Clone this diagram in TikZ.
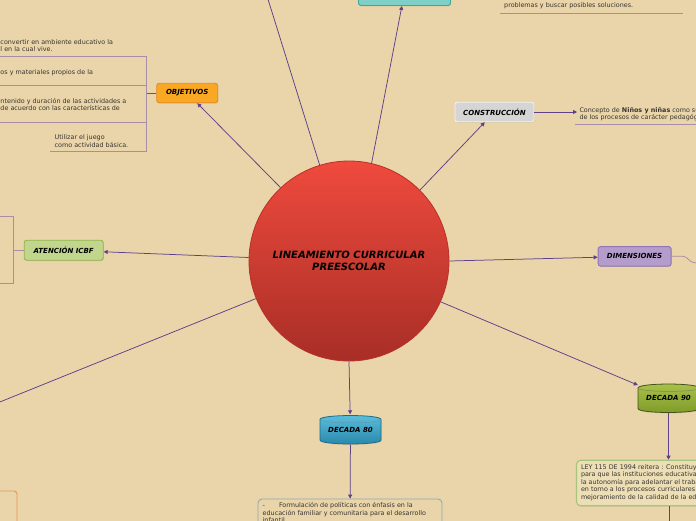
\documentclass[tikz,border=0pt]{standalone}
\usepackage{fontspec}
\setmainfont{DejaVu Sans}
\usetikzlibrary{arrows.meta,shadows}
\definecolor{bgc}{HTML}{E9D5A9}
\definecolor{connc}{HTML}{5D3F8A}
\definecolor{subc}{HTML}{A88DA8}
\definecolor{txtc}{HTML}{3A3430}
\definecolor{objf}{HTML}{F8A823}
\definecolor{objd}{HTML}{E3892C}
\definecolor{consf}{HTML}{D5D5D5}
\definecolor{consd}{HTML}{F2F2F2}
\definecolor{icbff}{HTML}{C2D58C}
\definecolor{icbfd}{HTML}{93B650}
\definecolor{dimf}{HTML}{B49DCB}
\definecolor{dimd}{HTML}{8F74B6}
\definecolor{tealf}{HTML}{7ECFC5}
\definecolor{teald}{HTML}{3DA99B}
\definecolor{redtop}{HTML}{EF4A3D}
\definecolor{redbot}{HTML}{A82E26}
\definecolor{redd}{HTML}{B93129}
\definecolor{bluetop}{HTML}{5CC0DD}
\definecolor{bluebot}{HTML}{2786AA}
\definecolor{blued}{HTML}{1F6C88}
\definecolor{olvtop}{HTML}{A9C24A}
\definecolor{olvbot}{HTML}{7E9A28}
\definecolor{olvd}{HTML}{44531A}
\definecolor{leyf}{HTML}{ECDFB6}
\definecolor{leyd}{HTML}{A8C47E}
\definecolor{t80d}{HTML}{8FA8B6}
\definecolor{orgd}{HTML}{E8955C}
\begin{document}
\begin{tikzpicture}[x=1pt,y=-1pt,
  lbl/.style={font=\fontsize{7}{8}\selectfont\bfseries\itshape, text=black},
  box/.style={rounded corners=2.5pt, line width=0.9pt, lbl, inner sep=0pt,
     drop shadow={opacity=0.22, shadow xshift=0.6pt, shadow yshift=-0.9pt}},
  conn/.style={draw=connc, line width=0.75pt, -{Triangle[length=4pt,width=4pt]}},
  connline/.style={draw=connc, line width=0.75pt},
  subline/.style={draw=subc, line width=0.8pt},
  small/.style={font=\fontsize{6.4}{7.5}\selectfont, text=txtc, inner sep=0pt, align=left}
]
\useasboundingbox (0,0) rectangle (696,520);
\clip (0,0) rectangle (696,520);
\fill[bgc] (-5,-5) rectangle (701,525);

% central node
\node[circle, minimum size=200pt, inner sep=0pt, top color=redtop, bottom color=redbot,
      draw=redd, line width=0.8pt, font=\fontsize{10}{11.6}\selectfont\bfseries\itshape,
      align=center, text=black] (c) at (349,261) {LINEAMIENTO CURRICULAR\\PREESCOLAR};

% main topic nodes
\node[box, fill=objf, draw=objd, minimum width=61pt, minimum height=19.5pt] (obj) at (187.2,93) {OBJETIVOS};
\node[box, fill=tealf, draw=teald, minimum width=92pt, minimum height=26pt] (met) at (404.5,-7.5) {};
\node[box, fill=consf, draw=consd, minimum width=79pt, minimum height=19.5pt] (cons) at (494.5,112) {CONSTRUCCIÓN};
\node[box, fill=icbff, draw=icbfd, minimum width=79pt, minimum height=20pt] (icbf) at (63.7,250.2) {ATENCIÓN ICBF};
\node[box, fill=dimf, draw=dimd, minimum width=73pt, minimum height=19.5pt] (dim) at (634.6,256.3) {DIMENSIONES};

% drums
\shade[top color=bluetop, bottom color=bluebot, draw=blued, line width=0.8pt,
  drop shadow={opacity=0.22, shadow xshift=0.6pt, shadow yshift=-0.9pt}]
  (320,419.5) .. controls (320,414.2) and (381,414.2) .. (381,419.5)
  -- (381,440) .. controls (381,445.3) and (320,445.3) .. (320,440) -- cycle;
\draw[blued!70, line width=0.5pt] (320,419.5) .. controls (320,424) and (381,424) .. (381,419.5);
\node[lbl, minimum width=61pt, minimum height=30pt, inner sep=0pt] (d80) at (350.5,429.5) {DECADA 80};

\shade[top color=olvtop, bottom color=olvbot, draw=olvd, line width=0.8pt,
  drop shadow={opacity=0.22, shadow xshift=0.6pt, shadow yshift=-0.9pt}]
  (638,388) .. controls (638,382.7) and (699,382.7) .. (699,388)
  -- (699,408.5) .. controls (699,413.8) and (638,413.8) .. (638,408.5) -- cycle;
\draw[olvd!70, line width=0.5pt] (638,388) .. controls (638,392.5) and (699,392.5) .. (699,388);
\node[lbl, minimum width=61pt, minimum height=30pt, inner sep=0pt] (d90) at (668.5,398) {DECADA 90};

% detail boxes
\node[rounded corners=4pt, fill=leyf, draw=leyd, line width=1.1pt, minimum width=184pt, minimum height=45.5pt,
      inner sep=0pt, drop shadow={opacity=0.18, shadow xshift=0.6pt, shadow yshift=-0.9pt}] (ley) at (668.5,483) {};
\node[small, anchor=north west] (leytxt) at (580.8,464.2)
 {LEY 115 DE 1994 reitera : Constituye\\para que las instituciones educativas\\la autonomía para adelantar el trabajo\\en torno a los procesos curriculares\\mejoramiento de la calidad de la educación};

\node[rounded corners=4pt, draw=t80d, line width=0.9pt, minimum width=184pt, minimum height=50pt, inner sep=0pt] (t80) at (350,524) {};
\node[small, anchor=north west] (t80txt) at (262.5,502.3)
 {-\hspace{14pt}Formulación de políticas con énfasis en la\\educación familiar y comunitaria para el desarrollo\\infantil};

\node[rounded corners=3pt, draw=orgd, line width=0.9pt, minimum width=40pt, minimum height=50pt, inner sep=0pt] (orgbox) at (-3,516) {};

% texts near OBJETIVOS
\node[small, anchor=north west] (o1) at (0.3,39.3) {convertir en ambiente educativo la\\l en la cual vive.};
\node[small, anchor=north west] (o2) at (0.3,69.4) {os y materiales propios de la};
\node[small, anchor=north west] (o3) at (0.3,97.8) {ntenido y duración de las actividades a\\de acuerdo con las características de};
\node[small, anchor=north west] (o4) at (54.5,134.8) {Utilizar el juego\\como actividad básica.};

% top right text
\node[small, anchor=north west] (tr) at (504,2.8) {problemas y buscar posibles soluciones.};
\coordinate (trl) at (500,13);
\coordinate (trr) at (683,13);
\draw[subline] (trl) -- (trr);

% construction text
\coordinate (conspt) at (577,112);
\node[small, anchor=north west] (constxt) at (579.3,107.3) {Concepto de \textbf{Niños y niñas} como sujetos\\de los procesos de carácter pedagógico};
\coordinate (cul) at (575,124.5);
\coordinate (cur) at (705,124.5);
\draw[subline] (cul) -- (cur);

% off-frame end points
\coordinate (topoff) at (262,-20);
\coordinate (bloff) at (-20,410);
\coordinate (leyoff) at (669,530);

% main connectors
\draw[conn] (c.133.4) -- (obj);
\draw[connline] (c.107.6) -- (topoff);
\draw[conn] (c.77.7) -- (met);
\draw[conn] (c.45.8) -- (cons);
\draw[conn] (c.178.3) -- (icbf);
\draw[conn] (c.0.5) -- (dim);
\draw[connline] (c.202.3) -- (bloff);
\draw[conn] (c.336.7) -- (d90);
\draw[conn] (c.south) -- (d80);
\draw[conn] (d80) -- (t80);
\draw[conn] (d90) -- (ley);
\draw[connline] (ley.south -| leyoff) -- (leyoff);
\draw[conn] (cons) -- (conspt);

% OBJETIVOS bracket
\coordinate (objbr) at (146,93);
\draw[draw=connc!80!subc, line width=0.8pt] (obj.west) -- (objbr);
\draw[subline] (-5,56) -- (146,56) -- (146,151) -- (50,151);
\draw[subline] (-5,85) -- (146,85);
\draw[subline] (-5,122) -- (146,122);

% ICBF bracket
\coordinate (icbr) at (13.3,250.2);
\draw[subline] (icbf.west) -- (icbr);
\draw[subline] (-5,216) -- (13.3,216) -- (13.3,283) -- (-5,283);

% DIMENSIONES curve
\coordinate (dimoff) at (710,263);
\draw[subline] (dim.east) -- (683,256.3) .. controls (688,256.3) and (689,263) .. (696,263) -- (dimoff);
\end{tikzpicture}
\end{document}
